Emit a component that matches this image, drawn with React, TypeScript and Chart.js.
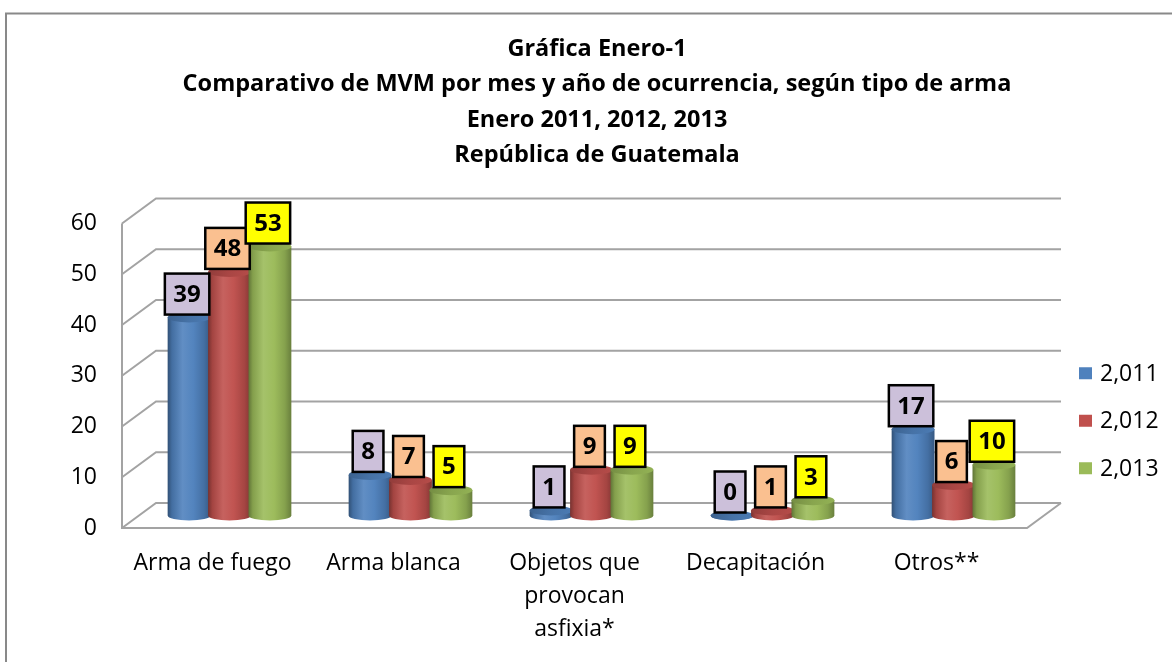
import { useEffect, useRef } from "react";
import { Chart, registerables } from "chart.js";

Chart.register(...registerables);

const titleLines = [
  "Gráfica Enero-1",
  "Comparativo de MVM por mes y año de ocurrencia, según tipo de arma",
  "Enero 2011, 2012, 2013",
  "República de Guatemala",
];
const categories = [
  ["Arma de fuego"],
  ["Arma blanca"],
  ["Objetos que", "provocan", "asfixia*"],
  ["Decapitación"],
  ["Otros**"],
];
const seriesLabels = ["2,011", "2,012", "2,013"];
const values2011 = [39, 8, 1, 0, 17];
const values2012 = [48, 7, 9, 1, 6];
const values2013 = [53, 5, 9, 3, 10];
const seriesColors = ["#4F81BD", "#C0504D", "#9BBB59"];
const labelBoxColors = ["#CCC0DA", "#FAC090", "#FFFF00"];
const yMin = 0;
const yMax = 60;
const yStep = 10;

const FONT = "'Open Sans', 'Noto Sans', sans-serif";
const DX = 17;
const DY = 12.5;
const GRID = "#A3A3A3";

function hexToRgb(h: string) {
  const n = parseInt(h.slice(1), 16);
  return [(n >> 16) & 255, (n >> 8) & 255, n & 255];
}
function shade(h: string, f: number) {
  const [r, g, b] = hexToRgb(h);
  const t = f < 0 ? 0 : 255;
  const p = Math.abs(f);
  const m = (c: number) => Math.round(c + (t - c) * p);
  return `rgb(${m(r)},${m(g)},${m(b)})`;
}

function drawCylinder(ctx: CanvasRenderingContext2D, x: number, top: number, base: number, w: number, color: string) {
  const rx = w / 2;
  const ry = 5;
  const left = x - rx;
  const right = x + rx;
  const g = ctx.createLinearGradient(left, 0, right, 0);
  g.addColorStop(0, shade(color, -0.38));
  g.addColorStop(0.1, shade(color, -0.15));
  g.addColorStop(0.35, shade(color, 0.1));
  g.addColorStop(0.6, shade(color, 0.02));
  g.addColorStop(0.85, shade(color, -0.14));
  g.addColorStop(1, shade(color, -0.32));
  ctx.save();
  ctx.beginPath();
  ctx.moveTo(left, top);
  ctx.lineTo(left, base);
  ctx.ellipse(x, base, rx, ry, 0, Math.PI, 0, true);
  ctx.lineTo(right, top);
  ctx.closePath();
  ctx.fillStyle = g;
  ctx.fill();
  const tg = ctx.createLinearGradient(left, top - ry, right, top + ry);
  tg.addColorStop(0, shade(color, -0.25));
  tg.addColorStop(0.5, shade(color, -0.12));
  tg.addColorStop(1, shade(color, -0.05));
  ctx.beginPath();
  ctx.ellipse(x, top, rx, ry, 0, 0, Math.PI * 2);
  ctx.fillStyle = tg;
  ctx.fill();
  ctx.restore();
}

const framePlugin = {
  id: "frame3d",
  beforeDraw(chart: any) {
    const { ctx, width, height } = chart;
    ctx.save();
    ctx.fillStyle = "#FFFFFF";
    ctx.fillRect(0, 0, width, height);
    ctx.strokeStyle = "#898989";
    ctx.lineWidth = 2;
    ctx.beginPath();
    ctx.moveTo(6, height);
    ctx.lineTo(6, 13.5);
    ctx.lineTo(width, 13.5);
    ctx.stroke();
    ctx.restore();
  },
  beforeDatasetsDraw(chart: any) {
    const { ctx, chartArea } = chart;
    const ys = chart.scales.y;
    const { left, right, top, bottom } = chartArea;
    ctx.save();
    ctx.strokeStyle = GRID;
    ctx.lineWidth = 2;
    ctx.beginPath();
    for (let v = yMin; v <= yMax; v += yStep) {
      const y = ys.getPixelForValue(v);
      ctx.moveTo(left - DX, y + DY);
      ctx.lineTo(left + DX, y - DY);
      ctx.lineTo(right + DX, y - DY);
    }
    ctx.moveTo(left - DX, top + DY);
    ctx.lineTo(left - DX, bottom + DY);
    ctx.lineTo(right - DX, bottom + DY);
    ctx.lineTo(right + DX, bottom - DY);
    ctx.stroke();
    ctx.restore();
  },
  afterDatasetsDraw(chart: any) {
    const { ctx, chartArea } = chart;
    const metas = chart.data.datasets.map((_: any, i: number) => chart.getDatasetMeta(i));
    metas.forEach((meta: any, di: number) => {
      meta.data.forEach((el: any) => {
        const p = el.getProps(["x", "y", "base", "width"], true);
        drawCylinder(ctx, p.x, p.y, p.base, p.width * 1.06, seriesColors[di]);
      });
    });
    ctx.save();
    ctx.font = `bold 24px ${FONT}`;
    ctx.textAlign = "center";
    ctx.textBaseline = "middle";
    metas.forEach((meta: any, di: number) => {
      const vals = chart.data.datasets[di].data;
      meta.data.forEach((el: any, i: number) => {
        const p = el.getProps(["x", "y"], true);
        const txt = String(vals[i]);
        const w = ctx.measureText(txt).width + 17;
        const h = 41;
        const cx = p.x - 2;
        const bottom = p.y - 3;
        ctx.fillStyle = labelBoxColors[di];
        ctx.fillRect(cx - w / 2, bottom - h, w, h);
        ctx.strokeStyle = "#000";
        ctx.lineWidth = 2.5;
        ctx.strokeRect(cx - w / 2, bottom - h, w, h);
        ctx.fillStyle = "#000";
        ctx.fillText(txt, cx, bottom - h / 2 + 1);
      });
    });
    ctx.restore();
    // legend
    ctx.save();
    ctx.font = `23px ${FONT}`;
    ctx.textAlign = "left";
    ctx.textBaseline = "middle";
    const midY = (chartArea.top + chartArea.bottom) / 2;
    chart.data.datasets.forEach((ds: any, i: number) => {
      const cy = midY + 10 + i * 47.5;
      ctx.fillStyle = seriesColors[i];
      ctx.fillRect(chartArea.right + 35, cy - 6, 13, 12);
      ctx.fillStyle = "#000";
      ctx.fillText(ds.label, chartArea.right + 56, cy + 1);
    });
    ctx.restore();
  },
};

export default function App() {
  const ref = useRef<HTMLCanvasElement | null>(null);
  useEffect(() => {
    if (!ref.current) return;
    const tickFont = { family: FONT, size: 23 };
    const chart = new Chart(ref.current, {
      type: "bar",
      data: {
        labels: categories as any,
        datasets: [
          { label: seriesLabels[0], data: values2011, backgroundColor: "rgba(0,0,0,0)", borderWidth: 0 },
          { label: seriesLabels[1], data: values2012, backgroundColor: "rgba(0,0,0,0)", borderWidth: 0 },
          { label: seriesLabels[2], data: values2013, backgroundColor: "rgba(0,0,0,0)", borderWidth: 0 },
        ],
      },
      options: {
        responsive: false,
        maintainAspectRatio: false,
        animation: false,
        layout: { padding: { left: 22, right: 0, top: 0, bottom: 0 } },
        datasets: { bar: { categoryPercentage: 0.67, barPercentage: 1 } } as any,
        plugins: {
          legend: { display: false },
          tooltip: { enabled: false },
          title: {
            display: true,
            text: titleLines,
            color: "#000",
            font: { family: FONT, size: 23.5, weight: "bold", lineHeight: 35.5 / 23.5 },
            padding: { top: 31.25, bottom: 37.75 },
          },
        },
        scales: {
          x: {
            position: "bottom",
            grid: { display: false, drawTicks: false },
            border: { display: false },
            ticks: {
              color: "#000",
              font: { ...tickFont, lineHeight: 33 / 23 },
              padding: 31,
              labelOffset: -DX,
              autoSkip: false,
              maxRotation: 0,
              minRotation: 0,
            },
            afterFit: (s: any) => {
              s.height = 146.5;
            },
          },
          y: {
            position: "left",
            min: yMin,
            max: yMax,
            grid: { display: false, drawTicks: false },
            border: { display: false },
            ticks: { stepSize: yStep, color: "#000", font: tickFont, padding: 42, labelOffset: DY },
            afterFit: (s: any) => {
              s.width = 117;
            },
          },
          y2: {
            position: "right",
            display: true,
            grid: { display: false, drawTicks: false },
            border: { display: false },
            ticks: { display: false },
            afterFit: (s: any) => {
              s.width = 128;
            },
          },
        },
      } as any,
      plugins: [framePlugin],
    });
    return () => chart.destroy();
  }, []);
  return (
    <div style={{ position: "absolute", left: 0, top: 0, width: 1172, height: 662 }}>
      <canvas ref={ref} width={1172} height={662} />
    </div>
  );
}
